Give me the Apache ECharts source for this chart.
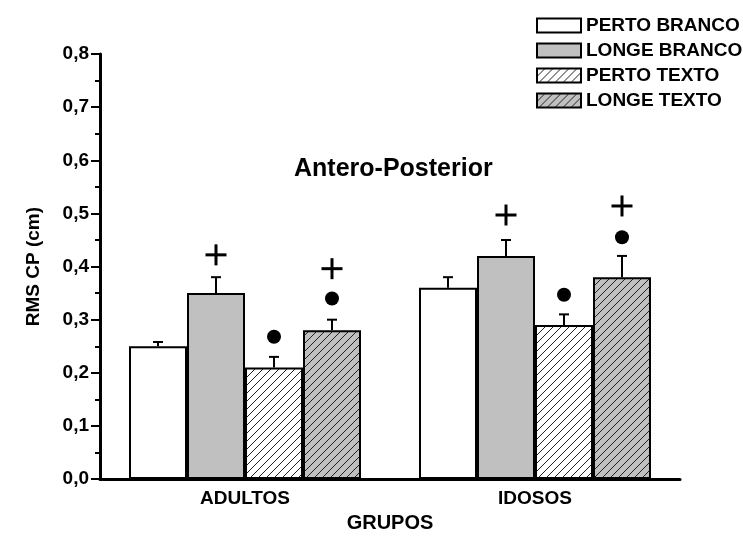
<!DOCTYPE html>
<html><head><meta charset="utf-8">
<script src="https://cdn.jsdelivr.net/npm/echarts@6/dist/echarts.min.js"></script>
<style>html,body{margin:0;padding:0;background:#fff}#c{width:743px;height:538px}</style>
</head><body><div id="c"></div>
<script>
const categories = ['ADULTOS', 'IDOSOS'];
const seriesNames = ['PERTO BRANCO', 'LONGE BRANCO', 'PERTO TEXTO', 'LONGE TEXTO'];
const pertoBranco = [0.25, 0.36];
const longeBranco = [0.35, 0.42];
const pertoTexto = [0.21, 0.29];
const longeTexto = [0.28, 0.38];
const errPertoBranco = [0.008, 0.02];
const errLongeBranco = [0.03, 0.03];
const errPertoTexto = [0.02, 0.02];
const errLongeTexto = [0.02, 0.04];
// significance marks (value where symbol is centred), null = none
const plusLongeBranco = [0.422, 0.497];
const plusLongeTexto = [0.396, 0.514];
const dotPertoTexto = [0.268, 0.347];
const dotLongeTexto = [0.340, 0.455];
const yTicks = ['0,0','0,1','0,2','0,3','0,4','0,5','0,6','0,7','0,8'];

const FONT = "'Liberation Sans', Arial, sans-serif";
const GREY = '#c0c0c0';

function hatch(bg) {
  const c = document.createElement('canvas');
  c.width = 8; c.height = 8;
  const ctx = c.getContext('2d');
  ctx.fillStyle = bg; ctx.fillRect(0, 0, 8, 8);
  ctx.strokeStyle = '#222'; ctx.lineWidth = 1;
  ctx.beginPath();
  ctx.moveTo(0, 8); ctx.lineTo(8, 0);
  ctx.moveTo(-1, 1); ctx.lineTo(1, -1);
  ctx.moveTo(7, 9); ctx.lineTo(9, 7);
  ctx.stroke();
  return c;
}

const values = [pertoBranco, longeBranco, pertoTexto, longeTexto];
const errs = [errPertoBranco, errLongeBranco, errPertoTexto, errLongeTexto];
const fills = ['#ffffff', GREY, {image: hatch('#ffffff'), repeat: 'repeat'}, {image: hatch(GREY), repeat: 'repeat'}];
const BAR_FRAC = 58 / 290;

const barSeries = seriesNames.map((n, i) => ({
  name: n, type: 'bar', barWidth: '20%', barGap: '0%',
  data: values[i],
  itemStyle: {color: fills[i], borderColor: '#000', borderWidth: 2},
  z: 2
}));

function xFor(api, cat, si) {
  const band = api.size([1, 0])[0];
  const bw = band * BAR_FRAC;
  return api.coord([cat, 0])[0] + (si - 1.5) * bw;
}

const errData = [];
errs.forEach((arr, si) => arr.forEach((e, ci) => errData.push([ci, values[si][ci], e, si])));
const errSeries = {
  type: 'custom', name: 'err', z: 5,
  data: errData,
  renderItem: function (params, api) {
    const ci = api.value(0), v = api.value(1), e = api.value(2), si = api.value(3);
    const x = xFor(api, ci, si);
    const y0 = api.coord([ci, v])[1];
    const y1 = api.coord([ci, v + e])[1];
    return {type: 'group', children: [
      {type: 'line', shape: {x1: x, y1: y0, x2: x, y2: y1}, style: {stroke: '#000', lineWidth: 2}},
      {type: 'line', shape: {x1: x - 5, y1: y1, x2: x + 5, y2: y1}, style: {stroke: '#000', lineWidth: 2}}
    ]};
  }
};

const markData = [];
[[plusLongeBranco, 1, 0], [plusLongeTexto, 3, 0], [dotPertoTexto, 2, 1], [dotLongeTexto, 3, 1]].forEach(([arr, si, kind]) => {
  arr.forEach((v, ci) => { if (v != null) markData.push([ci, v, si, kind]); });
});
const markSeries = {
  type: 'custom', name: 'marks', z: 6,
  data: markData,
  renderItem: function (params, api) {
    const ci = api.value(0), v = api.value(1), si = api.value(2), kind = api.value(3);
    const x = xFor(api, ci, si);
    const y = api.coord([ci, v])[1];
    if (kind === 0) {
      return {type: 'group', children: [
        {type: 'rect', shape: {x: x - 10.5, y: y - 1.5, width: 21, height: 3}, style: {fill: '#000'}},
        {type: 'rect', shape: {x: x - 1.5, y: y - 10.5, width: 3, height: 21}, style: {fill: '#000'}}
      ]};
    }
    return {type: 'circle', shape: {cx: x, cy: y, r: 7}, style: {fill: '#000'}};
  }
};

const chart = echarts.init(document.getElementById('c'));
chart.setOption({
  animation: false,
  backgroundColor: '#fff',
  textStyle: {fontFamily: FONT},
  title: {
    text: 'Antero-Posterior', left: 289, top: 152,
    textStyle: {fontFamily: FONT, fontWeight: 'bold', fontSize: 25, color: '#000'}
  },
  legend: {
    data: seriesNames, orient: 'vertical', left: 531, top: 11,
    itemWidth: 44, itemHeight: 14, itemGap: 6,
    icon: 'rect',
    textStyle: {fontFamily: FONT, fontWeight: 'bold', fontSize: 19, color: '#000', padding: [0, 0, 0, 0]}
  },
  grid: {left: 100, right: 63, top: 54, bottom: 50},
  xAxis: {
    type: 'category', data: categories,
    name: 'GRUPOS', nameLocation: 'middle', nameGap: 30,
    nameTextStyle: {fontFamily: FONT, fontWeight: 'bold', fontSize: 20, color: '#000'},
    axisLine: {lineStyle: {color: '#000', width: 3}},
    axisTick: {show: false},
    axisLabel: {fontFamily: FONT, fontWeight: 'bold', fontSize: 19, color: '#000', margin: 10}
  },
  yAxis: {
    type: 'value', min: 0, max: 0.8, interval: 0.1,
    name: 'RMS CP (cm)', nameLocation: 'middle', nameGap: 57,
    nameTextStyle: {fontFamily: FONT, fontWeight: 'bold', fontSize: 19, color: '#000'},
    axisLine: {show: true, lineStyle: {color: '#000', width: 3}},
    axisTick: {show: true, length: 9, lineStyle: {color: '#000', width: 2}},
    minorTick: {show: true, splitNumber: 2, length: 5, lineStyle: {color: '#000', width: 2}},
    splitLine: {show: false},
    axisLabel: {
      fontFamily: FONT, fontWeight: 'bold', fontSize: 19, color: '#000', margin: 11,
      formatter: (v) => yTicks[Math.round(v * 10)]
    }
  },
  series: [...barSeries, errSeries, markSeries]
});
</script>
</body></html>
